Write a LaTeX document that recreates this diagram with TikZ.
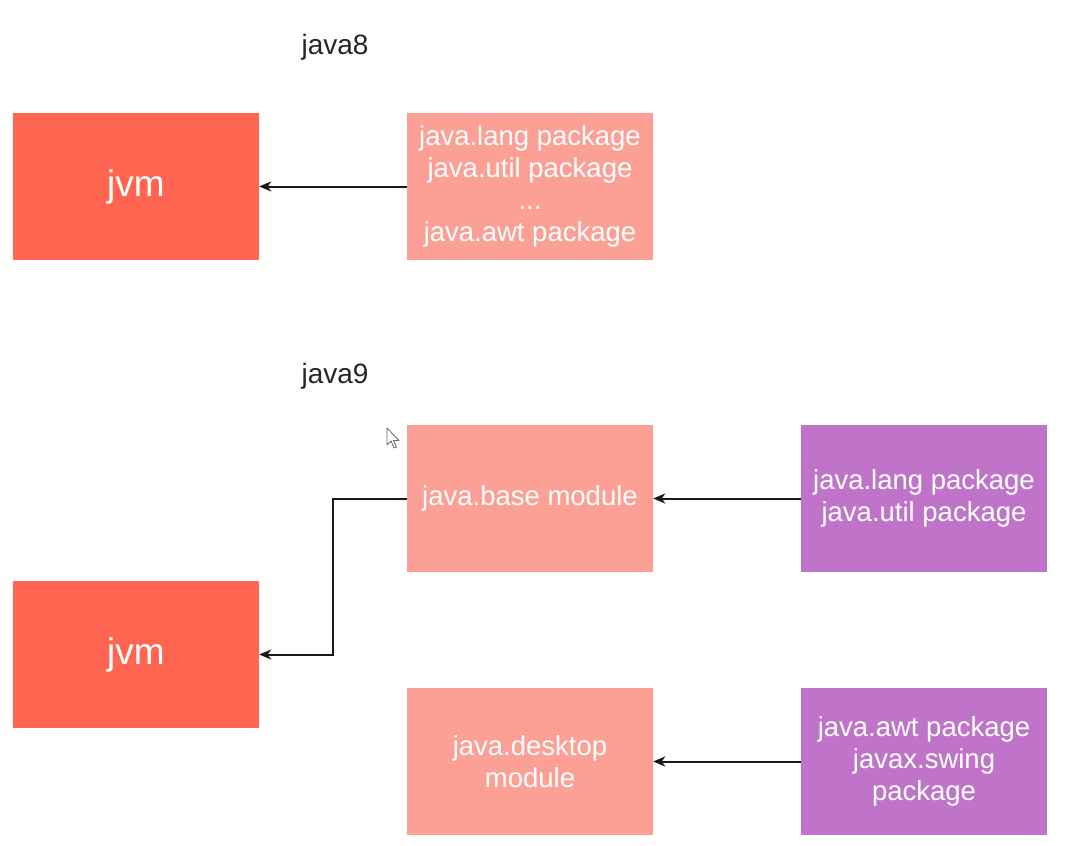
\documentclass[tikz,border=0pt]{standalone}
\usepackage{fontspec}
\setmainfont{Liberation Sans}
\usetikzlibrary{arrows.meta}
\definecolor{jvmred}{HTML}{FF6551}
\definecolor{modpink}{HTML}{FCA095}
\definecolor{pkgpurple}{HTML}{BF74C9}
\tikzset{
  boxbase/.style={rectangle, minimum width=246pt, minimum height=147pt, inner sep=0pt, align=center, text=white, font=\fontsize{27.5}{32}\selectfont},
  jvmbox/.style={boxbase, fill=jvmred, font=\fontsize{37}{40}\selectfont},
  modbox/.style={boxbase, fill=modpink},
  pkgbox/.style={boxbase, fill=pkgpurple},
  heading/.style={font=\fontsize{28}{32}\selectfont, text=black!85, inner sep=0pt},
  arr/.style={draw=black!90, line width=2pt, -{Stealth[length=12pt,width=10pt,inset=3.5pt]}},
  cursorshape/.style={fill=white, draw=black!60, line width=0.8pt, line join=round}
}
\begin{document}
\begin{tikzpicture}[x=1pt,y=-1pt]
\fill[white] (0,0) rectangle (1080,846);
\useasboundingbox (0,0) rectangle (1080,846);

\node[heading] (j8) at (335,47) {java8};
\node[heading] (j9) at (335,376) {java9};

\node[jvmbox] (jvm1) at (136,186.5) {jvm};
\node[modbox] (pkg8) at (530,186.5) {java.lang package\\java.util package\\...\\java.awt package};

\node[modbox] (base) at (530,498.5) {java.base module};
\node[pkgbox] (p1) at (924,498.5) {java.lang package\\java.util package};
\node[jvmbox] (jvm2) at (136,654.5) {jvm};
\node[modbox] (desk) at (530,761.5) {java.desktop\\module};
\node[pkgbox] (p2) at (924,761.5) {java.awt package\\javax.swing\\package};

\draw[arr] (pkg8.west) -- (jvm1.east);
\draw[arr] (p1.west) -- (base.east);
\draw[arr] (base.west) -- ([xshift=-74pt]base.west) |- (jvm2.east);
\draw[arr] (p2.west) -- (desk.east);

% mouse cursor
\draw[cursorshape] (387,428) -- ++(0,17) -- ++(4,-4) -- ++(3,7) -- ++(2.5,-1) -- ++(-3,-6.5) -- ++(5.5,0) -- cycle;
\end{tikzpicture}
\end{document}
